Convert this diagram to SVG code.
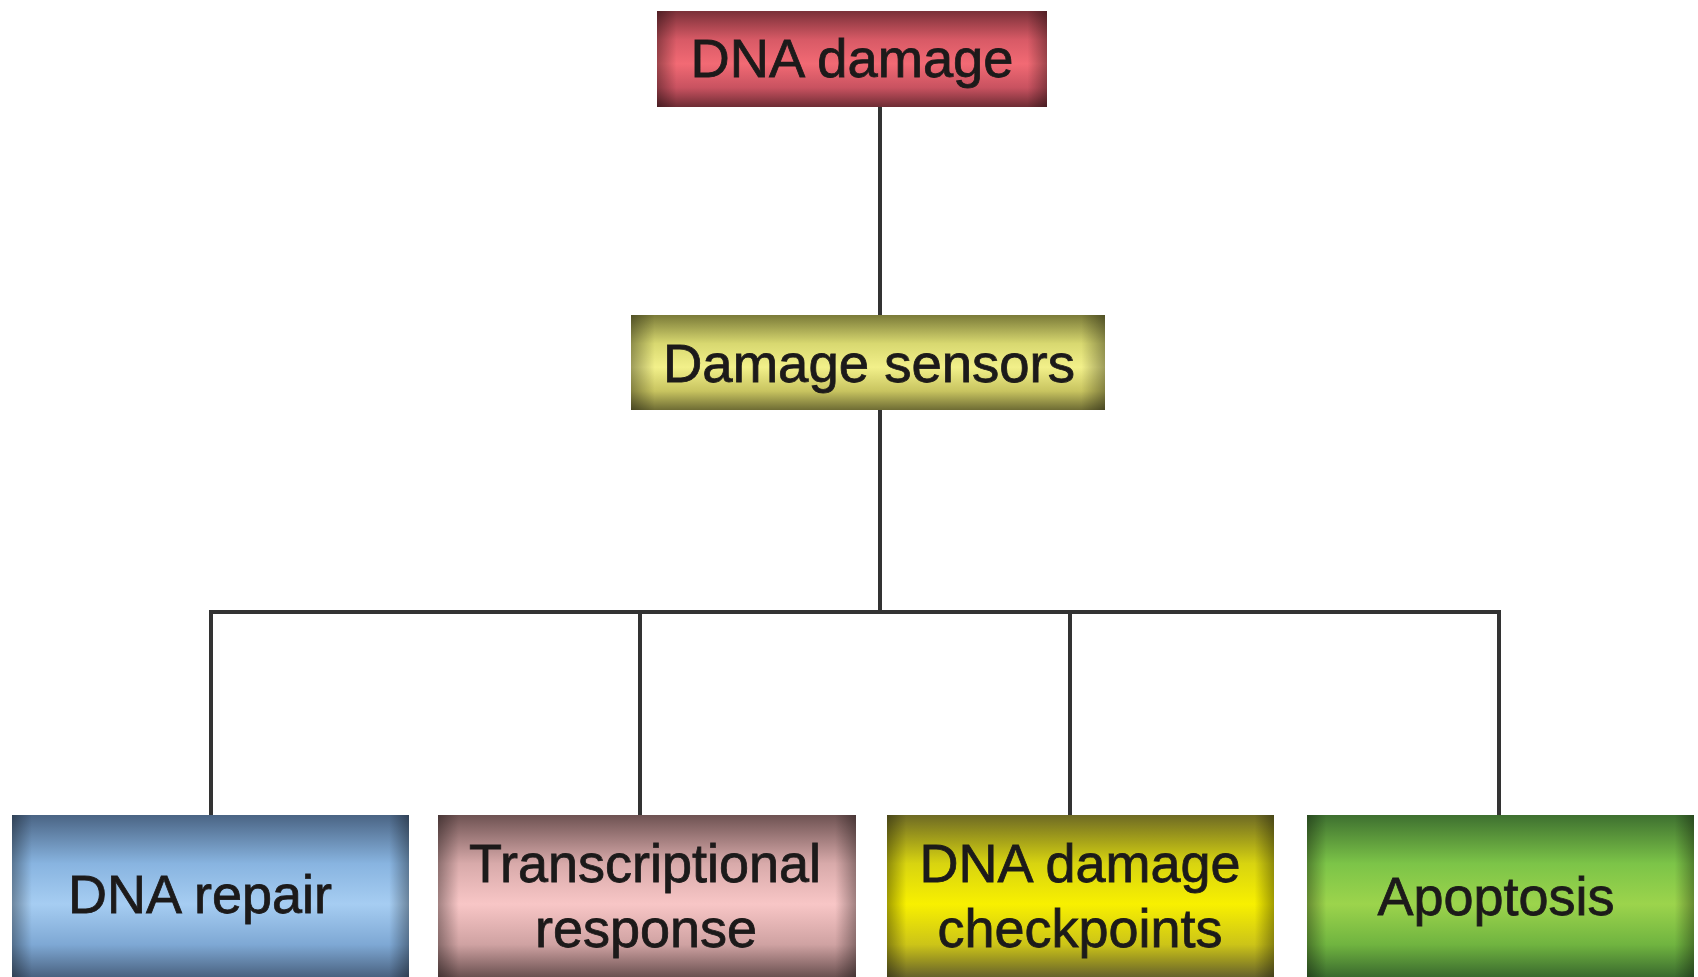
<svg xmlns="http://www.w3.org/2000/svg" width="1698" height="977" viewBox="0 0 1698 977">
<style>
.lbl{font-family:"Liberation Sans",Arial,sans-serif;font-size:54px;fill:#1c1a1a;stroke:#1c1a1a;stroke-width:0.8;text-anchor:middle}
.conn{stroke:#333;stroke-width:4;fill:none}
.edge{fill:url(#hedge)}
</style>
<defs>
<linearGradient id="hedge" x1="0" y1="0" x2="1" y2="0">
<stop offset="0" stop-color="#000" stop-opacity="0.35"/>
<stop offset="0.05" stop-color="#000" stop-opacity="0"/>
<stop offset="0.95" stop-color="#000" stop-opacity="0"/>
<stop offset="1" stop-color="#000" stop-opacity="0.35"/>
</linearGradient>
<linearGradient id="gRed" x1="0" y1="0" x2="0" y2="1">
<stop offset="0" stop-color="#7a3038"/><stop offset="0.3" stop-color="#d85a66"/><stop offset="0.55" stop-color="#f26a74"/><stop offset="0.8" stop-color="#c85260"/><stop offset="1" stop-color="#6e2c34"/>
</linearGradient>
<linearGradient id="gOlive" x1="0" y1="0" x2="0" y2="1">
<stop offset="0" stop-color="#7a7a38"/><stop offset="0.3" stop-color="#d8d870"/><stop offset="0.55" stop-color="#f2f08a"/><stop offset="0.8" stop-color="#c8c460"/><stop offset="1" stop-color="#6e6c34"/>
</linearGradient>
<linearGradient id="gBlue" x1="0" y1="0" x2="0" y2="1">
<stop offset="0" stop-color="#4a6484"/><stop offset="0.3" stop-color="#88b4e0"/><stop offset="0.55" stop-color="#a6cdf2"/><stop offset="0.8" stop-color="#7ea8d4"/><stop offset="1" stop-color="#4a6280"/>
</linearGradient>
<linearGradient id="gPink" x1="0" y1="0" x2="0" y2="1">
<stop offset="0" stop-color="#6e5252"/><stop offset="0.3" stop-color="#d8aaaa"/><stop offset="0.55" stop-color="#f8c6c6"/><stop offset="0.8" stop-color="#cfa2a2"/><stop offset="1" stop-color="#6a5050"/>
</linearGradient>
<linearGradient id="gYellow" x1="0" y1="0" x2="0" y2="1">
<stop offset="0" stop-color="#6e6a24"/><stop offset="0.3" stop-color="#d8d410"/><stop offset="0.55" stop-color="#f8f000"/><stop offset="0.8" stop-color="#ccc418"/><stop offset="1" stop-color="#66622a"/>
</linearGradient>
<linearGradient id="gGreen" x1="0" y1="0" x2="0" y2="1">
<stop offset="0" stop-color="#3e7030"/><stop offset="0.3" stop-color="#7cc448"/><stop offset="0.55" stop-color="#9cd44c"/><stop offset="0.8" stop-color="#70b440"/><stop offset="1" stop-color="#3a6a2e"/>
</linearGradient>
</defs>
<rect width="1698" height="977" fill="#fff"/>
<g id="connectors">
<line class="conn" x1="880" y1="107" x2="880" y2="315"/>
<line class="conn" x1="880" y1="410" x2="880" y2="612"/>
<polyline class="conn" points="211,815 211,612 1499,612 1499,815"/>
<line class="conn" x1="640" y1="612" x2="640" y2="815"/>
<line class="conn" x1="1070" y1="612" x2="1070" y2="815"/>
</g>
<g id="dna-damage">
<rect x="657" y="11" width="390" height="96" fill="url(#gRed)"/>
<rect class="edge" x="657" y="11" width="390" height="96"/>
<text class="lbl" x="852" y="77" textLength="323" lengthAdjust="spacingAndGlyphs">DNA damage</text>
</g>
<g id="damage-sensors">
<rect x="631" y="315" width="474" height="95" fill="url(#gOlive)"/>
<rect class="edge" x="631" y="315" width="474" height="95"/>
<text class="lbl" x="869" y="382" textLength="412" lengthAdjust="spacingAndGlyphs">Damage sensors</text>
</g>
<g id="dna-repair">
<rect x="12" y="815" width="397" height="162" fill="url(#gBlue)"/>
<rect class="edge" x="12" y="815" width="397" height="162"/>
<text class="lbl" x="200" y="913">DNA repair</text>
</g>
<g id="transcriptional-response">
<rect x="438" y="815" width="418" height="162" fill="url(#gPink)"/>
<rect class="edge" x="438" y="815" width="418" height="162"/>
<text class="lbl" x="645" y="882">Transcriptional</text>
<text class="lbl" x="646" y="947">response</text>
</g>
<g id="dna-damage-checkpoints">
<rect x="887" y="815" width="387" height="162" fill="url(#gYellow)"/>
<rect class="edge" x="887" y="815" width="387" height="162"/>
<text class="lbl" x="1080" y="882">DNA damage</text>
<text class="lbl" x="1080" y="947">checkpoints</text>
</g>
<g id="apoptosis">
<rect x="1307" y="815" width="387" height="162" fill="url(#gGreen)"/>
<rect class="edge" x="1307" y="815" width="387" height="162"/>
<text class="lbl" x="1496" y="915">Apoptosis</text>
</g>
</svg>
